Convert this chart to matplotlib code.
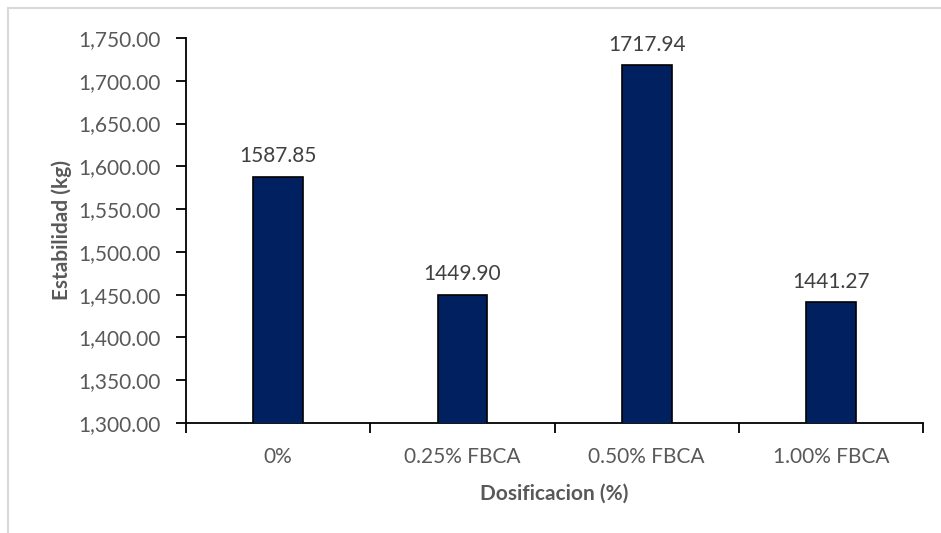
import matplotlib.pyplot as plt
from matplotlib.patches import Rectangle
from matplotlib.ticker import FuncFormatter, MultipleLocator

categorias = ['0%', '0.25% FBCA', '0.50% FBCA', '1.00% FBCA']
estabilidad = [1587.85, 1449.90, 1717.94, 1441.27]

plt.rcParams['font.family'] = ['Lato', 'DejaVu Sans']

fig = plt.figure(figsize=(9.41, 5.33), dpi=100)
ax = fig.add_axes([0.1977, 0.2064, 0.7833, 0.7223])

# marco gris del grafico (estilo Excel)
fig.patches.append(Rectangle((8 / 941, -0.1), 1.2, 1.1 - 8 / 533,
                             transform=fig.transFigure, fill=False,
                             edgecolor='#d9d9d9', linewidth=1.5))

x = range(len(categorias))
bars = ax.bar(x, estabilidad, width=0.27, color='#002060',
              edgecolor='black', linewidth=1.2, zorder=3)

for b, v in zip(bars, estabilidad):
    ax.text(b.get_x() + b.get_width() / 2, v + 12, f'{v:.2f}',
            ha='center', va='bottom', fontsize=15, color='#404040')

ax.set_ylim(1300, 1750)
ax.set_xlim(-0.5, len(categorias) - 0.5)
ax.yaxis.set_major_locator(MultipleLocator(50))
ax.yaxis.set_major_formatter(FuncFormatter(lambda v, p: f'{v:,.2f}'))

ax.set_xticks(list(x))
ax.set_xticklabels(categorias)
ax.set_xticks([i - 0.5 for i in range(len(categorias) + 1)], minor=True)
ax.tick_params(axis='x', which='major', length=0, pad=17,
               labelsize=15, labelcolor='#595959')
ax.tick_params(axis='x', which='minor', length=7, width=1.3, color='black')
ax.tick_params(axis='y', length=7, width=1.3, color='black', pad=11,
               labelsize=15, labelcolor='#595959')

for s in ['top', 'right']:
    ax.spines[s].set_visible(False)
for s in ['left', 'bottom']:
    ax.spines[s].set_linewidth(1.3)
    ax.spines[s].set_color('black')

ax.set_xlabel('Dosificacion (%)', fontsize=15, fontweight='bold',
              color='#595959', labelpad=12)
ax.set_ylabel('Estabilidad (kg)', fontsize=15, fontweight='bold',
              color='#595959', labelpad=5)

fig.savefig('out.png', dpi=100)
